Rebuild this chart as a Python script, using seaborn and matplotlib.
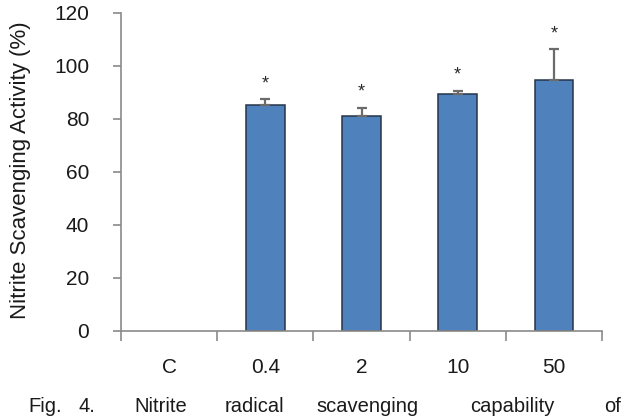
import matplotlib
matplotlib.use("Agg")
import matplotlib.pyplot as plt
import seaborn as sns
import pandas as pd
import numpy as np

categories = ["C", "0.4", "2", "10", "50"]
activity = [0.0, 85.0, 81.0, 89.3, 94.7]
err_upper = [0.0, 2.4, 3.2, 1.3, 11.6]
significant = [False, True, True, True, True]
y_ticks = [0, 20, 40, 60, 80, 100, 120]
caption_words = ["Fig.", "4.", "Nitrite", "radical", "scavenging", "capability", "of"]

sns.set_theme(style="white")
plt.rcParams["font.family"] = ["Liberation Sans", "DejaVu Sans"]

df = pd.DataFrame({"conc": categories, "activity": activity})

fig = plt.figure(figsize=(6.23, 4.17), dpi=100)
ax = fig.add_axes([121 / 623, 1 - 330.7 / 417, (602 - 121) / 623, (330.7 - 12.7) / 417])

axis_col = "#8a8a8a"
sns.barplot(data=df, x="conc", y="activity", order=categories, ax=ax,
            color="#4F81BD", saturation=1, width=0.4,
            edgecolor="#263449", linewidth=1.1, errorbar=None)
for p in ax.patches:
    if p.get_height() == 0:
        p.set_linewidth(0)

xs = np.arange(len(categories))
vals = np.array(activity)
errs = np.array(err_upper)
mask = np.array(significant)
ax.errorbar(xs[mask], vals[mask], yerr=[np.zeros(mask.sum()), errs[mask]],
            fmt="none", ecolor="#6b6b6b", elinewidth=1.6, capsize=3.5, capthick=1.6)
for x, v, e, s in zip(xs, vals, errs, significant):
    if s:
        ax.text(x, v + e + 5.8, "*", ha="center", va="center", fontsize=13, color="#2a2a2a")

ax.set_xlim(-0.5, len(categories) - 0.5)
ax.set_ylim(0, 120)
ax.set_yticks(y_ticks)
ax.set_yticklabels([str(t) for t in y_ticks])
ax.set_xticks(xs)
ax.set_xticklabels(categories)
ax.set_xticks(np.arange(-0.5, len(categories)), minor=True)
ax.tick_params(axis="x", which="major", length=0, pad=20, labelsize=15, labelcolor="#1a1a1a")
ax.tick_params(axis="x", which="minor", length=7, width=1.2, color=axis_col, direction="out", bottom=True)
ax.tick_params(axis="y", which="major", length=6, width=1.2, color=axis_col, direction="out",
               left=True, pad=17, labelsize=15, labelcolor="#1a1a1a")

for side in ["top", "right"]:
    ax.spines[side].set_visible(False)
for side in ["left", "bottom"]:
    ax.spines[side].set_color(axis_col)
    ax.spines[side].set_linewidth(1.2)

ax.set_xlabel("")
ax.set_ylabel("Nitrite Scavenging Activity (%)", fontsize=16, color="#1a1a1a", va="center")
ax.yaxis.set_label_coords(-0.208, 0.505)

caption_x = [28, 78, 134, 225, 316, 470, 604]
for w, cx in zip(caption_words, caption_x):
    fig.text(cx / 623, 1 - 397 / 417, w, ha="left", va="top", fontsize=14.5, color="#1a1a1a")

fig.savefig("out.png", dpi=100)
